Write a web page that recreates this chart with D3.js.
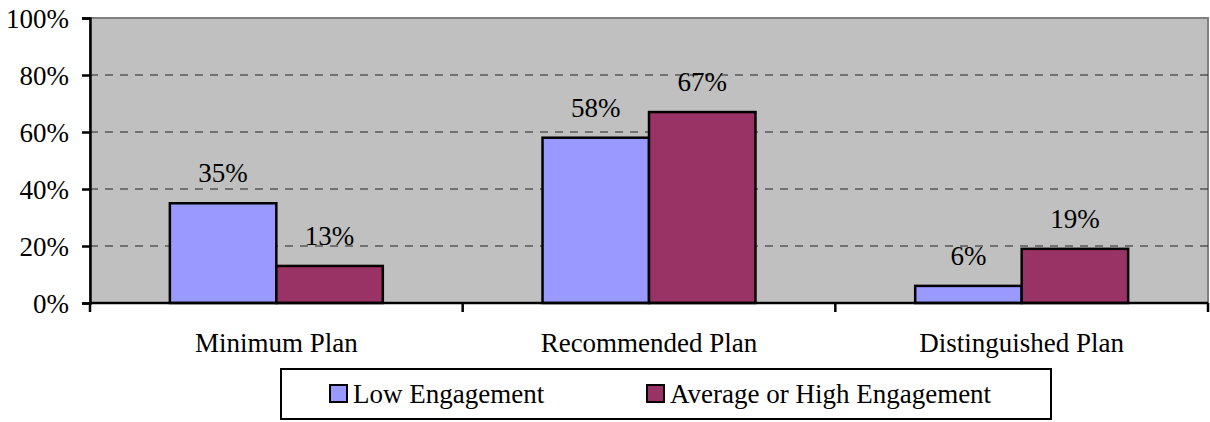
<!DOCTYPE html>
<html><head><meta charset="utf-8">
<script src="https://cdn.jsdelivr.net/npm/d3@7"></script>
</head><body style="margin:0">
<svg id="c" width="1210" height="422"></svg>
<script>
const categories = ["Minimum Plan", "Recommended Plan", "Distinguished Plan"];
const seriesNames = ["Low Engagement", "Average or High Engagement"];
const lowValues = [35, 58, 6];
const highValues = [13, 67, 19];
const yTicks = [0, 20, 40, 60, 80, 100];
const colors = ["#9999FF", "#993366"];

const FONT = "'Liberation Serif', 'Tinos', 'Times New Roman', 'Nimbus Roman', 'FreeSerif', serif";
const svg = d3.select("#c");
const L = 90, R = 1208, T = 18, B = 303;
const FS = 27;
const x0 = d3.scaleBand().domain(categories).range([L, R]).paddingInner(0).paddingOuter(0);
const bw = x0.bandwidth();
const barW = bw / 3.5; // Excel gap width 150%
const x1 = d3.scaleBand().domain(seriesNames).range([bw/2 - barW, bw/2 + barW]).padding(0);
const y = d3.scaleLinear().domain([0, 100]).range([B, T]);

function styleText(sel) {
  return sel.attr("font-size", FS).style("font-family", FONT).attr("fill", "#000");
}

// plot area
svg.append("rect").attr("x", L).attr("y", T).attr("width", R - L).attr("height", B - T)
  .attr("fill", "#C0C0C0").attr("stroke", "#808080").attr("stroke-width", 2);

// gridlines
svg.append("g").selectAll("line").data(yTicks.filter(d => d > 0 && d < 100)).join("line")
  .attr("x1", L).attr("x2", R).attr("y1", d => y(d)).attr("y2", d => y(d))
  .attr("stroke", "#222").attr("stroke-width", 1).attr("stroke-dasharray", "8,7");

// bars
const data = categories.map((c, i) => ({c, vals: [lowValues[i], highValues[i]]}));
const g = svg.append("g");
data.forEach(d => {
  d.vals.forEach((v, j) => {
    const xx = x0(d.c) + x1(seriesNames[j]);
    g.append("rect").attr("x", xx).attr("y", y(v)).attr("width", x1.bandwidth()).attr("height", y(0) - y(v))
      .attr("fill", colors[j]).attr("stroke", "#000").attr("stroke-width", 2.5);
  });
});
// data labels
const labels = [];
data.forEach(d => d.vals.forEach((v, j) => labels.push({c: d.c, s: seriesNames[j], v})));
styleText(svg.append("g").selectAll("text").data(labels).join("text")
  .attr("x", d => x0(d.c) + x1(d.s) + x1.bandwidth()/2).attr("y", d => y(d.v) - 21)
  .attr("text-anchor", "middle").text(d => d.v + "%"));

// y axis
const yAxis = d3.axisLeft(y).tickValues(yTicks).tickFormat(d => d + "%").tickSize(8).tickPadding(13);
const ya = svg.append("g").attr("transform", `translate(${L},0)`).call(yAxis);
ya.attr("font-family", null).attr("font-size", null);
ya.select(".domain").attr("stroke", "#000").attr("stroke-width", 2.5);
ya.selectAll(".tick line").attr("stroke", "#000").attr("stroke-width", 2.5);
styleText(ya.selectAll(".tick text")).attr("dy", "0.34em");

// x axis
const xa = svg.append("g").attr("transform", `translate(0,${B})`);
xa.append("line").attr("x1", L).attr("x2", R).attr("stroke", "#000").attr("stroke-width", 2.5);
const bounds = categories.map(c => x0(c)).concat([R]);
xa.selectAll("line.t").data(bounds).join("line").attr("class", "t")
  .attr("x1", d => d).attr("x2", d => d).attr("y1", 0).attr("y2", 9).attr("stroke", "#000").attr("stroke-width", 2.5);
styleText(xa.selectAll("text").data(categories).join("text")
  .attr("x", d => x0(d) + bw/2).attr("y", 352 - B).attr("text-anchor", "middle").text(d => d));

// legend
const lg = svg.append("g");
lg.append("rect").attr("x", 281).attr("y", 369).attr("width", 1051 - 281).attr("height", 50)
  .attr("fill", "#fff").attr("stroke", "#000").attr("stroke-width", 2);
const legX = [330, 647];
lg.selectAll("rect.k").data(seriesNames).join("rect").attr("class", "k")
  .attr("x", (d, i) => legX[i]).attr("y", 385).attr("width", 17).attr("height", 17)
  .attr("fill", (d, i) => colors[i]).attr("stroke", "#000").attr("stroke-width", 2);
styleText(lg.selectAll("text").data(seriesNames).join("text")
  .attr("x", (d, i) => legX[i] + 23).attr("y", 403).text(d => d));
</script></body></html>
